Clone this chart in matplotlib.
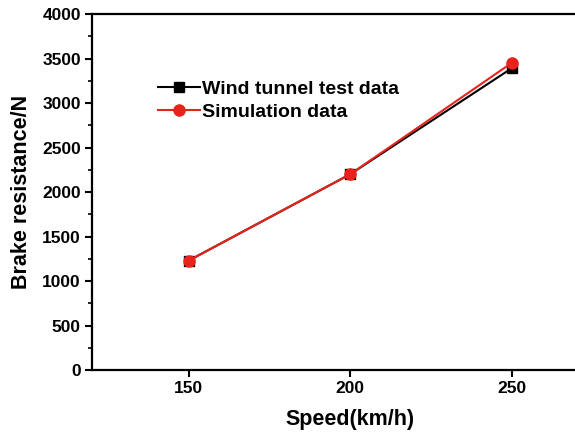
import numpy as np
import matplotlib
matplotlib.use('Agg')
import matplotlib.pyplot as plt
from matplotlib.ticker import MultipleLocator

plt.rcParams['font.family'] = ['Liberation Sans', 'DejaVu Sans']
plt.rcParams['font.weight'] = 'bold'

speed = [150, 200, 250]
wind_tunnel = [1230, 2200, 3390]
simulation = [1230, 2200, 3450]

fig = plt.figure(figsize=(5.75, 4.33), dpi=100)
ax = fig.add_axes([0.160, 0.1455, 0.898, 0.822])

ax.plot(speed, wind_tunnel, color='black', marker='s', markersize=7,
        linewidth=1.5, label='Wind tunnel test data')
ax.plot(speed, simulation, color='#e8231c', marker='o', markersize=8,
        linewidth=1.5, label='Simulation data')

ax.set_xlim(120, 280)
ax.set_ylim(0, 4000)
ax.set_xticks([150, 200, 250])
ax.yaxis.set_major_locator(MultipleLocator(500))
ax.yaxis.set_minor_locator(MultipleLocator(250))

for s in ax.spines.values():
    s.set_linewidth(1.6)
ax.tick_params(axis='both', which='major', direction='out', length=5, width=1.5,
               labelsize=12.5, pad=3)
ax.tick_params(axis='y', which='minor', direction='out', length=3, width=1.2)

ax.set_xlabel('Speed(km/h)', fontsize=15.5, fontweight='bold', labelpad=9)
ax.set_ylabel('Brake resistance/N', fontsize=15.5, fontweight='bold', labelpad=7)

ax.legend(loc='upper left', bbox_to_anchor=(0.112, 0.835), frameon=False,
          fontsize=14, handlelength=2.2, handletextpad=0.1, labelspacing=0.25,
          borderaxespad=0)

fig.savefig('out.png', dpi=100)
